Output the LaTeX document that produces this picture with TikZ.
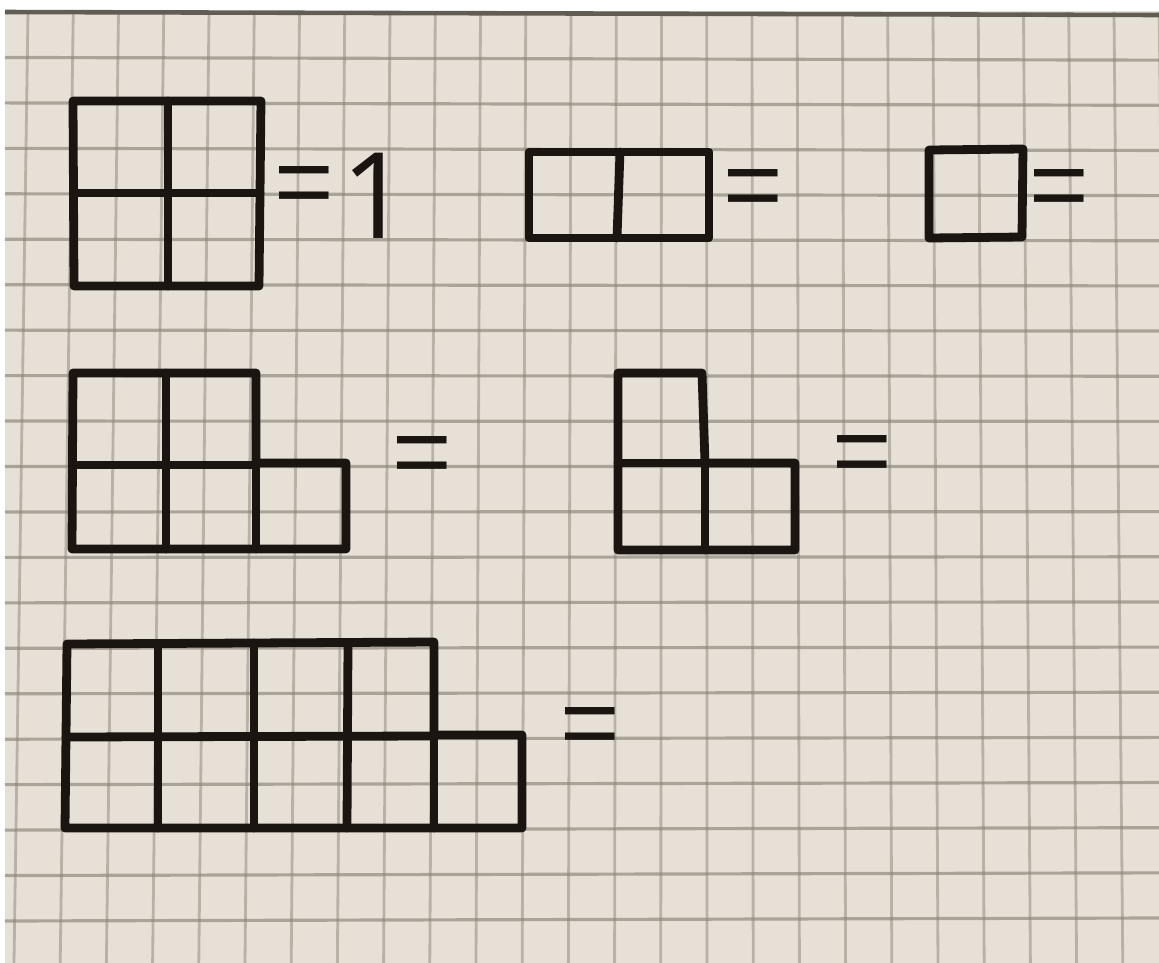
\documentclass[tikz,border=0pt]{standalone}
\usepackage{fontspec}
\setmainfont{Liberation Sans}
\newfontfamily\digitfont{Open Sans}
\definecolor{paper}{HTML}{E7E0D6}
\definecolor{pencil}{HTML}{8A8378}
\definecolor{ink}{HTML}{1B1511}
\tikzset{
  inkline/.style={draw=ink,line width=2.5pt,line join=round,line cap=round},
  gridv/.style={draw=pencil,line width=0.8pt,opacity=0.5},
  gridh/.style={draw=pencil,line width=0.9pt,opacity=0.65},
  eqsign/.style={inner sep=0pt,text=ink,font=\fontsize{29}{32}\selectfont},
  digit/.style={inner sep=0pt,text=ink,font=\digitfont\fontsize{34}{36}\selectfont}
}
\begin{document}
\begin{tikzpicture}[x=0.01cm,y=-0.01cm]
            \useasboundingbox (0,0) rectangle (1159,963);
            \fill[white] (0,0) rectangle (1159,963);
            \fill[paper] (5,11) rectangle (1159,963);
            % squared paper
            \foreach \k in {0,...,25}
                \draw[gridv] ({28+45.25*\k},12) -- ({14+46.2*\k},963);
            \foreach \k in {1,...,20}
                \draw[gridh] (5,{12+45.45*\k}) -- (1159,{15+45.15*\k});
            \draw[draw=pencil!70!black,line width=1.3pt] (5,12) -- (1159,15);
            % first row
            \draw[inkline] (73,101) -- (261,101) -- (259,286) -- (74,286) -- cycle;
            \draw[inkline] (168,101) -- (168,286);
            \draw[inkline] (74,193) -- (260,193);
            \node[eqsign] (eqA) at (304,191) {=};
            \node[digit] (one) at (376,196) {1};
            \draw[inkline] (529,152) -- (709,152) -- (709,238) -- (529,238) -- cycle;
            \draw[inkline] (620,152) -- (617,238);
            \node[eqsign] (eqB) at (753,194) {=};
            \draw[inkline] (929,150) -- (1023,149) -- (1022,237) -- (929,238) -- cycle;
            \node[eqsign] (eqC) at (1059,194) {=};
            % second row
            \draw[inkline] (73,373) -- (256,373) -- (256,463) -- (346,463) -- (346,549) -- (72,549) -- cycle;
            \draw[inkline] (166,373) -- (166,549);
            \draw[inkline] (256,463) -- (256,549);
            \draw[inkline] (73,465) -- (256,465);
            \node[eqsign] (eqD) at (422,461) {=};
            \draw[inkline] (618,373) -- (702,373) -- (705,463) -- (795,463) -- (795,550) -- (618,550) -- cycle;
            \draw[inkline] (618,463) -- (705,463) -- (705,550);
            \node[eqsign] (eqE) at (862,460) {=};
            % third row
            \draw[inkline] (67,644) -- (434,642) -- (434,735) -- (522,735) -- (522,828) -- (65,828) -- cycle;
            \draw[inkline] (158,644) -- (158,828);
            \draw[inkline] (254,643) -- (254,828);
            \draw[inkline] (348,643) -- (347,828);
            \draw[inkline] (434,735) -- (434,828);
            \draw[inkline] (66,737) -- (434,736);
            \node[eqsign] (eqF) at (590,732) {=};
        \end{tikzpicture}
\end{document}
